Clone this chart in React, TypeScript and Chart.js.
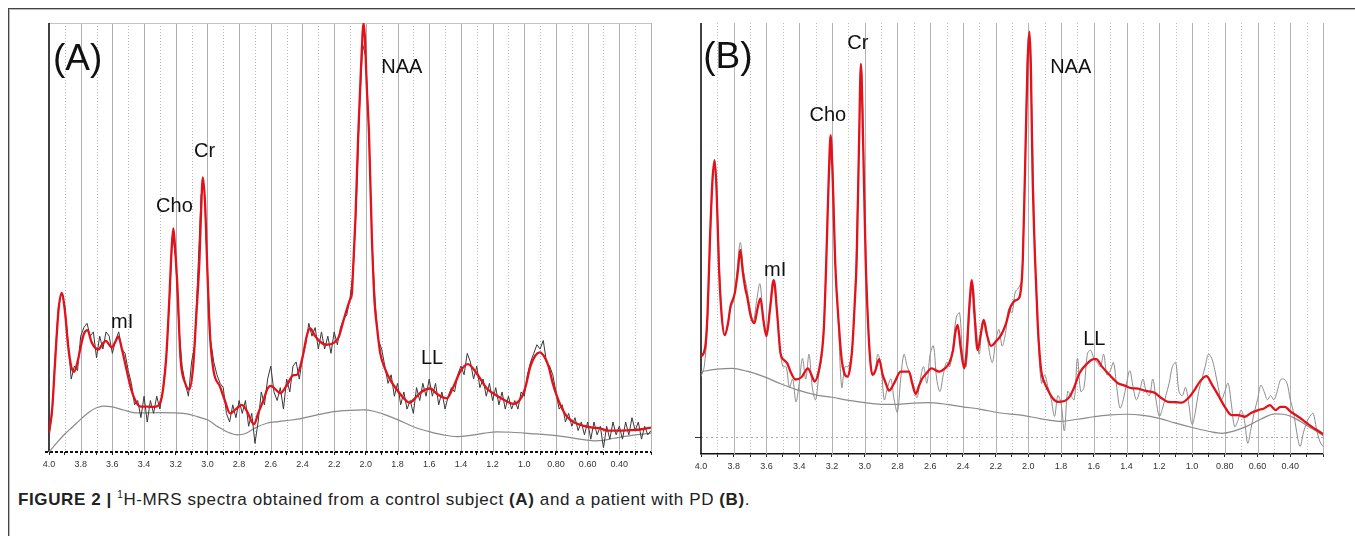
import React, { useEffect, useRef } from "react";
import { Chart, registerables } from "chart.js";

Chart.register(...registerables);

const FONT = '"Liberation Sans", Arial, Helvetica, sans-serif';

// ---------- axis (ppm) ----------
const TICK_VALUES = Array.from({ length: 39 }, (_, i) => (40 - i) / 10);
const TICK_LABELS = ["4.0", "3.8", "3.6", "3.4", "3.2", "3.0", "2.8", "2.6", "2.4", "2.2", "2.0", "1.8", "1.6", "1.4", "1.2", "1.0", "0.80", "0.60", "0.40", ""];
const RAW_PPM = Array.from({ length: 191 }, (_, i) => (400 - 2 * i) / 100);

// ---------- panel A : control subject ----------
const A_FIT_PPM = [4.0, 3.98, 3.96, 3.94, 3.92, 3.9, 3.88, 3.86, 3.842, 3.82, 3.8, 3.78, 3.758, 3.73, 3.689, 3.66, 3.64, 3.62, 3.604, 3.58, 3.562, 3.54, 3.51, 3.48, 3.446, 3.42, 3.38, 3.34, 3.31, 3.29, 3.278, 3.26, 3.24, 3.225, 3.215, 3.205, 3.19, 3.17, 3.14, 3.114, 3.09, 3.07, 3.05, 3.04, 3.029, 3.015, 3.0, 2.985, 2.962, 2.92, 2.89, 2.857, 2.82, 2.783, 2.75, 2.72, 2.705, 2.68, 2.646, 2.62, 2.6, 2.57, 2.54, 2.5, 2.457, 2.435, 2.4, 2.37, 2.351, 2.32, 2.288, 2.25, 2.2, 2.17, 2.14, 2.1, 2.088, 2.08, 2.065, 2.048, 2.03, 2.014, 2.005, 1.995, 1.98, 1.962, 1.955, 1.945, 1.93, 1.909, 1.88, 1.846, 1.804, 1.76, 1.726, 1.69, 1.65, 1.594, 1.55, 1.489, 1.45, 1.4, 1.356, 1.3, 1.236, 1.173, 1.12, 1.068, 1.015, 0.99, 0.962, 0.93, 0.903, 0.87, 0.846, 0.82, 0.793, 0.76, 0.73, 0.68, 0.625, 0.57, 0.52, 0.477, 0.4, 0.33, 0.26, 0.2];
const A_FIT = [4.4, 10, 22, 33, 37.1, 33, 25, 20, 18.7, 21, 24.5, 27.5, 28.4, 25.5, 23.9, 25.3, 25.9, 25, 24.4, 25.8, 26.9, 24, 19.1, 14.5, 11.4, 10.6, 10.6, 10.5, 10.8, 12.5, 15.2, 22, 36, 48, 52.1, 48, 39, 22, 16, 14.6, 20, 32, 45, 56, 64, 58, 42, 28, 19.1, 15.2, 12, 9, 10, 11, 9.5, 7, 6.5, 9, 12.1, 14.8, 15.4, 14.6, 13.7, 15.5, 17.9, 18, 22, 27.5, 28.8, 27, 25.7, 25, 25.5, 26.9, 30.8, 35.5, 37, 43, 55, 74, 90, 100, 96, 86, 74, 50, 43, 35, 29.2, 23, 19.5, 16.8, 14.5, 12.5, 11.5, 12.5, 14, 14.8, 13.5, 12.5, 15, 19, 20.5, 18.3, 14.8, 13.1, 12, 11.2, 12.9, 15.5, 19.9, 22.5, 23.2, 22, 19.9, 16, 12.9, 10, 8.2, 6.8, 6.1, 5.7, 5.5, 5.0, 5.0, 5.1, 5.3, 5.7];
const A_BASE_PPM = [4.0, 3.95, 3.9, 3.85, 3.804, 3.75, 3.7, 3.657, 3.6, 3.53, 3.467, 3.4, 3.3, 3.2, 3.13, 3.06, 3.0, 2.93, 2.87, 2.81, 2.76, 2.7, 2.625, 2.55, 2.48, 2.41, 2.3, 2.2, 2.1, 2.015, 1.95, 1.88, 1.804, 1.7, 1.594, 1.5, 1.425, 1.35, 1.25, 1.173, 1.08, 0.962, 0.85, 0.751, 0.65, 0.56, 0.5, 0.435, 0.35, 0.27, 0.2];
const A_BASE = [0, 2.2, 4.2, 5.9, 7.5, 9.2, 10.3, 10.7, 10.5, 9.8, 9.2, 9.1, 9.2, 9.1, 8.9, 8.2, 7.5, 5.8, 4.6, 4.0, 4.3, 5.6, 6.7, 7.1, 7.4, 7.8, 8.7, 9.4, 9.7, 9.8, 9.5, 8.7, 7.6, 5.9, 4.7, 3.9, 3.6, 3.8, 4.4, 4.7, 4.6, 4.3, 4.0, 3.6, 3.0, 2.6, 2.7, 3.2, 3.7, 4.1, 4.4];
const A_RAW = [
  4, 9, 23, 34, 37, 34, 26, 17, 20, 19,
  27, 29, 30, 27, 28, 22, 27, 24, 28, 27,
  23, 26, 28, 24, 23, 19, 16, 11, 12, 8,
  13, 7, 12, 9, 13, 10, 15, 22, 35, 51,
  45, 29, 20, 16, 13, 21, 25, 42, 60, 62,
  42, 26, 21, 18, 16, 15, 9, 7, 11, 8,
  12, 9, 12, 6, 9, 2, 7, 14, 11, 17,
  20, 14, 12, 15, 10, 17, 14, 20, 21, 17,
  22, 25, 30, 27, 29, 24, 28, 24, 27, 23,
  28, 25, 29, 31, 32, 36, 42, 58, 80, 95,
  92, 74, 48, 34, 26, 24, 20, 16, 18, 13,
  16, 11, 14, 10, 12, 9, 15, 12, 16, 13,
  17, 13, 16, 11, 14, 10, 13, 15, 14, 18,
  20, 18, 23, 21, 17, 20, 15, 17, 13, 16,
  12, 15, 11, 14, 10, 13, 10, 12, 10, 14,
  13, 18, 21, 23, 25, 24, 26, 21, 20, 18,
  14, 10, 11, 7, 9, 6, 8, 5, 7, 4,
  7, 3, 7, 4, 6, 1, 6, 3, 7, 4,
  6, 3, 7, 4, 8, 5, 7, 3, 6, 4,
  5,
];
const A_LABEL_TEXT = ["(A)", "Cho", "Cr", "NAA", "mI", "LL"];
const A_LABEL_PPM = [3.975, 3.324, 3.084, 1.903, 3.608, 1.652];
const A_LABEL_Y = [89.0, 55.9, 68.8, 88.3, 28.9, 20.5];

// ---------- panel B : patient with PD ----------
const B_FIT_PPM = [4.0, 3.974, 3.96, 3.945, 3.93, 3.917, 3.905, 3.892, 3.875, 3.855, 3.835, 3.82, 3.794, 3.775, 3.76, 3.745, 3.73, 3.718, 3.695, 3.674, 3.655, 3.637, 3.618, 3.6, 3.578, 3.555, 3.535, 3.514, 3.49, 3.473, 3.45, 3.423, 3.385, 3.347, 3.325, 3.306, 3.28, 3.26, 3.249, 3.235, 3.22, 3.208, 3.195, 3.18, 3.157, 3.14, 3.125, 3.106, 3.09, 3.075, 3.06, 3.049, 3.035, 3.023, 3.01, 2.994, 2.98, 2.965, 2.953, 2.935, 2.912, 2.89, 2.871, 2.851, 2.82, 2.78, 2.729, 2.71, 2.688, 2.667, 2.647, 2.62, 2.592, 2.545, 2.51, 2.484, 2.46, 2.445, 2.432, 2.415, 2.392, 2.375, 2.36, 2.345, 2.33, 2.31, 2.29, 2.273, 2.255, 2.228, 2.2, 2.167, 2.14, 2.106, 2.08, 2.055, 2.04, 2.034, 2.02, 2.005, 1.994, 1.985, 1.975, 1.959, 1.942, 1.922, 1.9, 1.881, 1.85, 1.82, 1.78, 1.749, 1.72, 1.688, 1.64, 1.6, 1.585, 1.55, 1.514, 1.48, 1.453, 1.41, 1.371, 1.33, 1.29, 1.229, 1.19, 1.147, 1.1, 1.065, 1.02, 0.984, 0.95, 0.912, 0.88, 0.84, 0.8, 0.759, 0.72, 0.677, 0.64, 0.596, 0.56, 0.524, 0.49, 0.46, 0.433, 0.4, 0.351, 0.31, 0.27, 0.23, 0.19];
const B_FIT = [19.4, 21.8, 30, 48, 62, 66.9, 60, 42.8, 30, 24.6, 27.5, 31.5, 34.7, 40, 45.2, 40, 36, 33.9, 29, 27.5, 31, 33.5, 28, 24.4, 31, 37.9, 30, 20.2, 18.5, 17.8, 15.5, 13.9, 14.5, 16.6, 15, 13.4, 16, 21, 26.6, 42, 62, 72.9, 62, 42, 26.6, 18.5, 15.5, 14.6, 16.5, 22, 33, 42.8, 70, 90.1, 72, 42.8, 28, 18, 15.0, 16, 18.8, 15, 13.0, 11.2, 13, 15.8, 15.8, 13, 10.4, 12.5, 14.2, 15.5, 16.6, 15.8, 16.6, 17.8, 21, 25.5, 27.1, 22, 16.6, 22, 32, 37.9, 30, 21.0, 25, 28.3, 25, 22.0, 23, 24.6, 27, 31.7, 33, 33.7, 38, 42.8, 65, 90, 97.9, 90, 65, 42.8, 26.6, 16.2, 13, 11.4, 9.3, 8.5, 8.7, 9.7, 12, 15.4, 17.8, 18.8, 18.8, 17, 15.4, 14, 13.0, 12.4, 11.8, 11.7, 11.2, 10.7, 9.5, 8.5, 8.4, 8.3, 9.5, 11.4, 13.5, 14.7, 12.8, 10.1, 7.3, 5.3, 5.3, 4.9, 5.8, 6.5, 6.9, 7.7, 6.5, 7.3, 7.3, 6.2, 4.9, 3.7, 2.5, 1.5, 0.5];
const B_BASE_PPM = [4.0, 3.9, 3.81, 3.72, 3.616, 3.51, 3.412, 3.3, 3.2, 3.106, 3.0, 2.902, 2.8, 2.7, 2.616, 2.5, 2.4, 2.29, 2.17, 2.045, 1.922, 1.8, 1.7, 1.6, 1.514, 1.4, 1.31, 1.2, 1.106, 1.0, 0.9, 0.82, 0.74, 0.66, 0.58, 0.494, 0.44, 0.371, 0.3, 0.24, 0.19];
const B_BASE = [15.8, 16.4, 16.6, 15.9, 14.6, 12.8, 11.4, 10.2, 9.6, 8.9, 8.3, 7.9, 7.9, 8.2, 8.3, 7.9, 7.3, 6.7, 5.8, 5.3, 4.4, 3.8, 4.3, 4.9, 5.3, 5.5, 5.3, 4.5, 3.4, 2.3, 1.4, 0.9, 1.5, 2.7, 4.3, 5.6, 5.5, 4.5, 2.8, 1.4, 0.1];
const B_RAW = [
  14.6, 17, 28, 52, 66, 55, 34, 25, 26, 31,
  33, 40, 47, 40, 36, 31, 28, 33, 37, 29,
  25, 31, 38, 32, 22, 17, 17, 12, 14, 8.5,
  13, 19, 14, 20, 12, 9, 15, 20, 36, 62,
  69, 42, 27, 12, 17, 17, 20, 33, 62, 88,
  56, 28, 16, 15, 20, 17, 9, 12, 14, 9,
  6, 14, 20, 17, 15, 12, 9.5, 14, 17, 13,
  20, 22, 14, 11, 15, 18, 17, 22, 29, 30,
  19, 17, 30, 37, 27, 20, 28, 27, 21, 18,
  23, 26, 22, 25, 31, 30, 35, 36, 38, 66,
  97, 80, 45, 24, 13, 15, 12, 9, 5, 10,
  8, 1.5, 11, 10, 9, 19, 11, 12, 20, 21,
  19, 18, 17, 20, 15, 16, 18, 12, 7, 9,
  13, 16, 12, 9, 11, 14, 11, 10, 14, 9,
  5, 7, 10, 13, 17, 18, 11, 10, 12, 8,
  3, 6, 11, 14, 17, 20, 19, 16, 12, 9,
  11, 13, 8, 2.5, 4, 6.5, 4, -1.5, 2, 6,
  9, 12.5, 11, 9, 10, 9, 11, 13.8, 14, 13,
  9, 6, 1, -2.3, 1, 3.5, 5, 5.7, 2, -1,
  -2.3,
];
const B_LABEL_TEXT = ["(B)", "Cho", "Cr", "NAA", "mI", "LL"];
const B_LABEL_PPM = [3.986, 3.337, 3.106, 1.867, 3.615, 1.665];
const B_LABEL_Y = [89.1, 76.4, 93.6, 87.9, 38.8, 22.3];

const pts = (xs: number[], ys: number[]) => xs.map((x, i) => ({ x, y: ys[i] }));

const decorPlugin = {
  id: "decor",
  beforeDatasetsDraw(chart: any, _a: any, o: any) {
    const { ctx, chartArea } = chart;
    const { left, right, top, bottom } = chartArea;
    const xs = chart.scales.x;
    const ys = chart.scales.y;
    ctx.save();
    ctx.lineWidth = 1;
    TICK_VALUES.forEach((v, i) => {
      if (i === 0) return;
      const px = Math.round(xs.getPixelForValue(v)) + 0.5;
      ctx.beginPath();
      if (i % 2 === 0) {
        ctx.setLineDash([]);
        ctx.strokeStyle = o.solidColor;
      } else {
        ctx.setLineDash([1, 2]);
        ctx.strokeStyle = o.dotColor;
      }
      ctx.moveTo(px, top);
      ctx.lineTo(px, bottom);
      ctx.stroke();
    });
    ctx.setLineDash([]);
    if (o.topLine) {
      ctx.strokeStyle = "#c4c4c4";
      ctx.beginPath();
      ctx.moveTo(left, top + 0.5);
      ctx.lineTo(right, top + 0.5);
      ctx.stroke();
    }
    if (o.zeroLine) {
      const zy = Math.round(ys.getPixelForValue(0)) + 0.5;
      ctx.strokeStyle = "#a8a8a8";
      ctx.setLineDash([2, 3]);
      ctx.beginPath();
      ctx.moveTo(left, zy);
      ctx.lineTo(right, zy);
      ctx.stroke();
      ctx.setLineDash([]);
      ctx.strokeStyle = "#333";
      ctx.beginPath();
      ctx.moveTo(left - 6, zy);
      ctx.lineTo(left, zy);
      ctx.stroke();
    }
    ctx.strokeStyle = "#111";
    ctx.lineWidth = 1.6;
    ctx.beginPath();
    ctx.moveTo(left, top);
    ctx.lineTo(left, bottom);
    ctx.stroke();
    if (o.dashedAxis) {
      ctx.lineWidth = 2;
      ctx.setLineDash([3, 2]);
      ctx.beginPath();
      ctx.moveTo(left - 4, bottom);
      ctx.lineTo(right, bottom);
      ctx.stroke();
    }
    ctx.restore();
  },
  afterDatasetsDraw(chart: any, _a: any, o: any) {
    const { ctx } = chart;
    const xs = chart.scales.x;
    const ys = chart.scales.y;
    ctx.save();
    ctx.fillStyle = "#111";
    ctx.textAlign = "left";
    ctx.textBaseline = "alphabetic";
    o.labelText.forEach((t: string, i: number) => {
      ctx.font = `${i === 0 ? 37 : 20}px ${FONT}`;
      ctx.fillText(t, xs.getPixelForValue(o.labelPpm[i]), ys.getPixelForValue(o.labelY[i]));
    });
    ctx.restore();
  },
};

type PanelProps = {
  left: number;
  width: number;
  fitPpm: number[];
  fit: number[];
  basePpm: number[];
  base: number[];
  raw: number[];
  rawColor: string;
  rawTension: number;
  yMin: number;
  padLeft: number;
  padRight: number;
  axisH: number;
  solidBorder: boolean;
  decor: any;
};

function Panel(p: PanelProps) {
  const ref = useRef<HTMLCanvasElement | null>(null);
  useEffect(() => {
    if (!ref.current) return;
    const chart = new Chart(ref.current, {
      type: "line",
      data: {
        datasets: [
          {
            data: pts(p.fitPpm, p.fit),
            borderColor: "#e3121a",
            borderWidth: 2.3,
            pointRadius: 0,
            cubicInterpolationMode: "monotone",
            order: 0,
          },
          {
            data: pts(RAW_PPM, p.raw),
            borderColor: p.rawColor,
            borderWidth: 1,
            pointRadius: 0,
            tension: p.rawTension,
            order: 1,
          },
          {
            data: pts(p.basePpm, p.base),
            borderColor: "#8a8a8a",
            borderWidth: 1.2,
            pointRadius: 0,
            cubicInterpolationMode: "monotone",
            order: 2,
          },
        ],
      },
      options: {
        responsive: false,
        animation: false,
        events: [],
        layout: { padding: { left: p.padLeft, right: p.padRight, top: 23, bottom: 0 } },
        plugins: { legend: { display: false }, tooltip: { enabled: false }, decor: p.decor } as any,
        scales: {
          x: {
            type: "linear",
            reverse: true,
            min: 0.2,
            max: 4.0,
            afterBuildTicks: (s: any) => {
              s.ticks = TICK_VALUES.map((v) => ({ value: v }));
            },
            afterFit: (s: any) => {
              s.height = p.axisH;
            },
            ticks: {
              autoSkip: false,
              maxRotation: 0,
              padding: 4,
              color: "#333",
              font: { family: FONT, size: 9 },
              callback: (_v: any, i: number) => (i % 2 === 0 ? TICK_LABELS[i / 2] : ""),
            },
            grid: { display: true, drawOnChartArea: false, drawTicks: true, tickLength: 3, color: "#222" },
            border: { display: p.solidBorder, color: "#111", width: 1.5 },
          },
          y: { display: false, min: p.yMin, max: 100 },
        },
      },
      plugins: [decorPlugin],
    } as any);
    return () => chart.destroy();
  }, []);
  return (
    <canvas
      ref={ref}
      width={p.width}
      height={480}
      style={{ position: "absolute", left: p.left, top: 0, width: p.width, height: 480 }}
    />
  );
}

export default function App() {
  return (
    <div style={{ position: "fixed", left: 0, top: 0, width: 1355, height: 536, background: "#fff", overflow: "hidden" }}>
      <div style={{ position: "absolute", left: 8, top: 8, right: 0, bottom: 0, borderTop: "1px solid #444", borderLeft: "1px solid #444", boxShadow: "inset 1px 1px 0 #bbb" }} />
      <Panel
        left={0}
        width={680}
        fitPpm={A_FIT_PPM}
        fit={A_FIT}
        basePpm={A_BASE_PPM}
        base={A_BASE}
        raw={A_RAW}
        rawColor="#383838"
        rawTension={0}
        yMin={0}
        padLeft={49}
        padRight={29}
        axisH={28}
        solidBorder={false}
        decor={{ solidColor: "#b0b0b0", dotColor: "#b8b8b8", topLine: true, zeroLine: false, dashedAxis: true, labelText: A_LABEL_TEXT, labelPpm: A_LABEL_PPM, labelY: A_LABEL_Y }}
      />
      <Panel
        left={680}
        width={675}
        fitPpm={B_FIT_PPM}
        fit={B_FIT}
        basePpm={B_BASE_PPM}
        base={B_BASE}
        raw={B_RAW}
        rawColor="#8c8c8c"
        rawTension={0.35}
        yMin={-4.1}
        padLeft={21}
        padRight={32}
        axisH={26}
        solidBorder={true}
        decor={{ solidColor: "#b4b4b4", dotColor: "#bdbdbd", topLine: false, zeroLine: true, dashedAxis: false, labelText: B_LABEL_TEXT, labelPpm: B_LABEL_PPM, labelY: B_LABEL_Y }}
      />
      <div style={{ position: "absolute", left: 18, top: 489, font: `17px ${FONT}`, letterSpacing: "0.6px", color: "#222", whiteSpace: "nowrap", lineHeight: "22px" }}>
        <b>FIGURE 2 |</b> <sup style={{ fontSize: 10, lineHeight: 0 }}>1</sup>H-MRS spectra obtained from a control subject <b>(A)</b> and a patient with PD <b>(B)</b>.
      </div>
    </div>
  );
}
